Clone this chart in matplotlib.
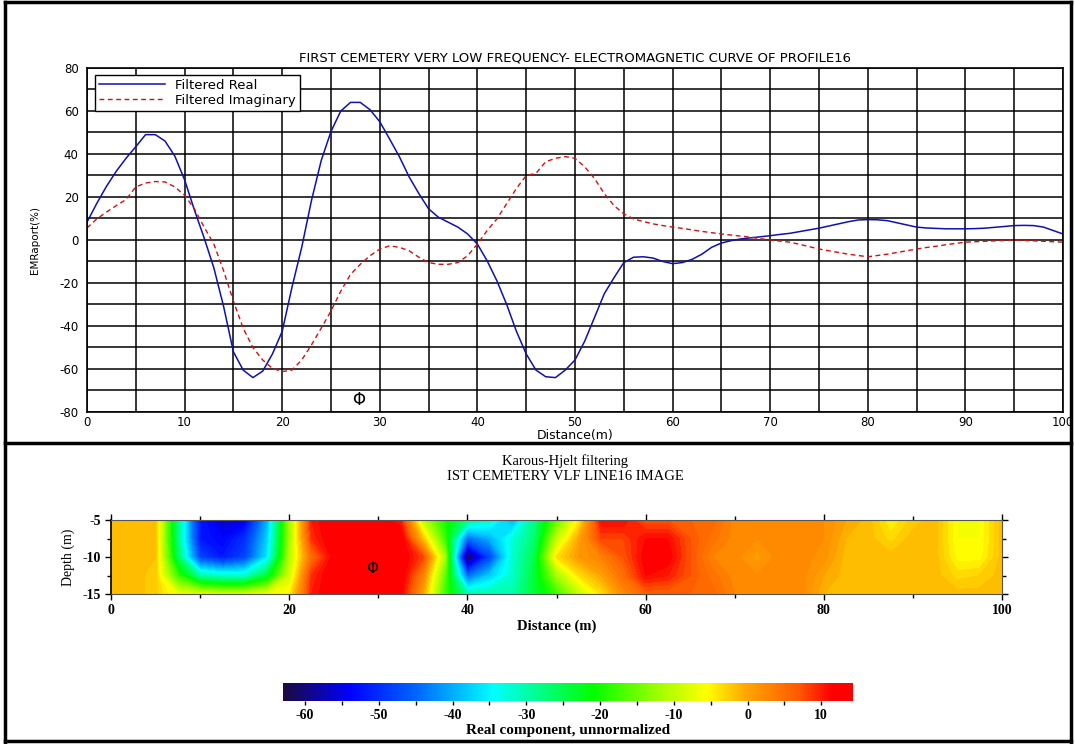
import numpy as np
import matplotlib
matplotlib.use('Agg')
import matplotlib.pyplot as plt
from matplotlib.colors import LinearSegmentedColormap, Normalize
from matplotlib.cm import ScalarMappable
from matplotlib.lines import Line2D
from matplotlib.ticker import MultipleLocator

plt.rcParams['axes.unicode_minus'] = False

# ---- profile curve data (distance in m, EM response in %) ----
dist = list(range(0, 101))
filt_real = [8.3, 17, 25, 32, 38, 43.4, 49, 49, 46, 39,
             28, 14, 1, -13, -31, -52, -60.5, -64, -61, -53,
             -42.5, -22, -3.4, 18.4, 37, 50.5, 60, 64, 64, 60.6,
             55, 47, 38.8, 29.4, 21.6, 14.5, 10.6, 8.3, 6, 2.8,
             -1.9, -9.7, -19, -30, -42.5, -53, -60.5, -63.6, -64, -60.5,
             -55.8, -47, -36, -25, -17.5, -10.5, -8, -7.8, -8.4, -10,
             -11, -10.5, -9, -6.6, -3.4, -1.4, -0.3, 0.5, 1, 1.5,
             2, 2.6, 3.1, 3.9, 4.7, 5.5, 6.5, 7.5, 8.5, 9.3,
             9.5, 9.4, 9, 8, 7, 6, 5.6, 5.4, 5.2, 5.2,
             5.2, 5.3, 5.5, 5.9, 6.3, 6.7, 6.8, 6.7, 6, 4.4,
             2.8]
filt_imag = [5.6, 9.8, 13, 16, 18.8, 24.7, 26.5, 27.2, 27, 24.7,
             20.8, 14.5, 6, -1.9, -14.4, -28.4, -41, -50, -55.8, -59.7,
             -61.2, -60.5, -55.8, -48.8, -41, -33, -23.8, -16, -11.3, -7.3,
             -4.2, -2.7, -3.4, -5, -8, -10.5, -11.3, -11.3, -10.5, -7.3,
             -1.9, 4.4, 9.8, 16.9, 24, 30, 31, 36.4, 38, 38.8,
             38, 34, 28.6, 21.6, 16, 12.2, 9.8, 8.6, 7.5, 6.7,
             6, 5.4, 4.7, 4, 3.4, 2.8, 2.3, 1.8, 1.3, 0.6,
             0, -0.5, -1, -2, -3.1, -4.2, -5, -5.8, -6.6, -7.2,
             -7.8, -7.2, -6.6, -5.8, -5, -4.2, -3.5, -2.9, -2.2, -1.6,
             -1, -0.8, -0.6, -0.4, -0.2, 0, -0.2, -0.4, -0.6, -0.8,
             -1]

# ---- Karous-Hjelt section (columns every 2.5 m, depths -5 .. -15) ----
kh_dist = [i * 2.5 for i in range(41)]
kh_depth = [-5, -7.5, -10, -12.5, -15]
kh_columns = [
    [-1.5, -1.5, -1.5, -1.5, -1.5],   # 0
    [-1.5, -1.5, -1.5, -1.5, -1.5],   # 2.5
    [-2, -2, -2, -2.5, -2.5],         # 5
    [-28, -28, -26, -18, -7],         # 7.5
    [-52, -52, -48, -30, -8],         # 10
    [-56, -54, -52, -32, -9],         # 12.5
    [-55, -50, -48, -32, -9],         # 15
    [-40, -38, -36, -24, -7],         # 17.5
    [-12, -12, -11, -9, -5],          # 20
    [10, 9, 5, 9, 10],                # 22.5
    [13, 13, 12, 13, 13],             # 25
    [13, 13, 13, 13, 13],             # 27.5
    [13, 13, 13, 13, 13],             # 30
    [10, 13, 13, 13, 12],             # 32.5
    [-10, -2, 8, 3, 0],               # 35
    [-20, -18, -12, -16, -18],        # 37.5
    [-28, -45, -63, -45, -30],        # 40
    [-32, -40, -48, -38, -30],        # 42.5
    [-40, -33, -32, -32, -30],        # 45
    [-28, -27, -25, -24, -24],        # 47.5
    [-16, -10, -4, -12, -18],         # 50
    [-5, 0, 1, -4, -10],              # 52.5
    [11, 8, 3, 0, -4],                # 55
    [11, 8, 7, 5, 2],                 # 57.5
    [7, 11, 12, 11, 6],               # 60
    [7, 11, 12, 10, 6],               # 62.5
    [6, 7, 7, 7, 6],                  # 65
    [5.5, 4.5, 3, 4.5, 5.5],          # 67.5
    [2.5, 2.5, 2.5, 2.5, 3],          # 70
    [2.5, 2, 0.5, 2, 2.5],            # 72.5
    [2.5, 2.5, 2.5, 2.5, 2.5],        # 75
    [2.5, 2.5, 2.5, 2.5, 2.5],        # 77.5
    [2, 2, 1.5, 0, -1],               # 80
    [0, -1, -1.5, -1.5, -1.5],        # 82.5
    [-1.5, -1.5, -1.5, -1.5, -1.5],   # 85
    [-5, -3.5, -1.5, -1.5, -1.5],     # 87.5
    [-2.5, -1.5, -1.5, -1.5, -1.5],   # 90
    [-1.5, -1.5, -1.5, -1.5, -1.5],   # 92.5
    [-6, -6, -5.5, -3.5, -1.5],       # 95
    [-6, -6, -5.5, -3, -1.5],         # 97.5
    [-1.5, -1.5, -1.5, -1.5, -1.5],   # 100
]

cbar_ticks = [-60, -50, -40, -30, -20, -10, 0, 10]
vmin, vmax = -63, 14.3

sans = ['DejaVu Sans']
serif = ['Liberation Serif', 'DejaVu Serif']

fig = plt.figure(figsize=(10.75, 7.44), dpi=100)

# ---------------- top: VLF profile ----------------
ax = fig.add_axes([87 / 1075, 1 - 412 / 744, 976 / 1075, 344 / 744])
ax.plot(dist, filt_real, color='#1010b0', lw=1.1, label='Filtered Real')
ax.plot(dist, filt_imag, color='#d01010', lw=1.0, ls=(0, (3.5, 2.5)),
        label='Filtered Imaginary')
ax.set_xlim(0, 100)
ax.set_ylim(-80, 80)
ax.xaxis.set_major_locator(MultipleLocator(10))
ax.xaxis.set_minor_locator(MultipleLocator(5))
ax.yaxis.set_major_locator(MultipleLocator(20))
ax.yaxis.set_minor_locator(MultipleLocator(10))
ax.grid(True, which='both', color='black', lw=1.1)
ax.tick_params(which='both', length=0, labelsize=8.5, pad=3)
ax.tick_params(axis='y', pad=6)
for lab in ax.get_xticklabels() + ax.get_yticklabels():
    lab.set_family(sans)
for s in ax.spines.values():
    s.set_linewidth(1.2)
ax.set_xlabel('Distance(m)', fontsize=9, family=sans, labelpad=0)
ax.set_ylabel('EMRaport(%)', fontsize=7.5, family=sans, labelpad=14)
ax.set_title('FIRST CEMETERY VERY LOW FREQUENCY- ELECTROMAGNETIC CURVE OF PROFILE16',
             fontsize=9.5, family=sans, pad=5)
leg = ax.legend(loc='upper left', bbox_to_anchor=(0.008, 0.98), borderaxespad=0,
                fancybox=False, edgecolor='black', framealpha=1,
                prop={'family': sans, 'size': 9.5}, handlelength=5,
                borderpad=0.3, labelspacing=0.15)
leg.get_frame().set_linewidth(1.0)
ax.text(27.8, -74.5, 'Φ', fontsize=12, ha='center', va='center', family=sans)

# ---------------- bottom: Karous-Hjelt image ----------------
cmap = LinearSegmentedColormap.from_list('kh', [
    ((-63 - vmin) / (vmax - vmin), '#1c0a40'),
    ((-54 - vmin) / (vmax - vmin), '#0000ff'),
    ((-45 - vmin) / (vmax - vmin), '#0066ff'),
    ((-34.5 - vmin) / (vmax - vmin), '#00ffff'),
    ((-21 - vmin) / (vmax - vmin), '#00ff00'),
    ((-12 - vmin) / (vmax - vmin), '#a0ff00'),
    ((-5.5 - vmin) / (vmax - vmin), '#ffff00'),
    ((0 - vmin) / (vmax - vmin), '#ffa500'),
    ((7 - vmin) / (vmax - vmin), '#ff5a00'),
    ((11.5 - vmin) / (vmax - vmin), '#ff0000'),
    (1.0, '#ff0000'),
])
norm = Normalize(vmin, vmax)

bx = fig.add_axes([111 / 1075, 1 - 594 / 744, 891 / 1075, 74 / 744])
Z = np.array(kh_columns).T
X, Y = np.meshgrid(kh_dist, kh_depth)
bx.contourf(X, Y, Z, levels=np.arange(-64, 15.5, 1), cmap=cmap, norm=norm)
bx.set_xlim(0, 100)
bx.set_ylim(-15, -5)
bx.set_xticks([0, 20, 40, 60, 80, 100])
bx.xaxis.set_minor_locator(MultipleLocator(10))
bx.set_yticks([-5, -10, -15])
bx.yaxis.set_minor_locator(MultipleLocator(2.5))
bx.tick_params(which='both', direction='out', top=True, right=True,
               length=4, width=1, labelsize=10, pad=3)
bx.tick_params(which='minor', length=3)
for lab in bx.get_xticklabels() + bx.get_yticklabels():
    lab.set_family(serif)
    lab.set_weight('bold')
for s in bx.spines.values():
    s.set_linewidth(0.8)
    s.set_color('#555555')
bx.spines['left'].set_color('black')
bx.spines['left'].set_linewidth(1.2)
bx.set_xlabel('Distance (m)', fontsize=10.5, family=serif, weight='bold', labelpad=2)
bx.set_ylabel('Depth (m)', fontsize=10, family=serif, labelpad=6)
bx.text(29.3, -11.5, 'Φ', fontsize=11, ha='center', va='center', family=sans)

fig.text(565 / 1075, 1 - 461 / 744, 'Karous-Hjelt filtering', ha='center',
         va='center', fontsize=10.5, family=serif)
fig.text(565 / 1075, 1 - 476 / 744, 'IST CEMETERY VLF LINE16 IMAGE', ha='center',
         va='center', fontsize=10.5, family=serif)

# ---------------- colour bar ----------------
cax = fig.add_axes([283 / 1075, 1 - 701 / 744, 570 / 1075, 18 / 744])
cb = fig.colorbar(ScalarMappable(norm=norm, cmap=cmap), cax=cax,
                  orientation='horizontal')
cb.outline.set_visible(False)
cb.set_ticks(cbar_ticks)
cax.xaxis.set_minor_locator(MultipleLocator(5))
cax.tick_params(which='both', direction='out', length=3, width=1,
                labelsize=10, pad=3)
for lab in cax.get_xticklabels():
    lab.set_family(serif)
    lab.set_weight('bold')
cb.set_label('Real component, unnormalized', fontsize=11, family=serif,
             weight='bold', labelpad=1)

# ---------------- outer frame ----------------
frame_kw = dict(color='black', lw=2.5, transform=fig.transFigure)
fig.add_artist(Line2D([5 / 1075, 5 / 1075], [0.003, 0.997], **frame_kw))
fig.add_artist(Line2D([1071 / 1075, 1071 / 1075], [0.003, 0.997], **frame_kw))
fig.add_artist(Line2D([5 / 1075, 1071 / 1075], [0.997, 0.997], **frame_kw))
fig.add_artist(Line2D([5 / 1075, 1071 / 1075], [0.004, 0.004], **frame_kw))
fig.add_artist(Line2D([5 / 1075, 1071 / 1075], [1 - 443 / 744, 1 - 443 / 744], **frame_kw))

fig.savefig('out.png', dpi=100)
